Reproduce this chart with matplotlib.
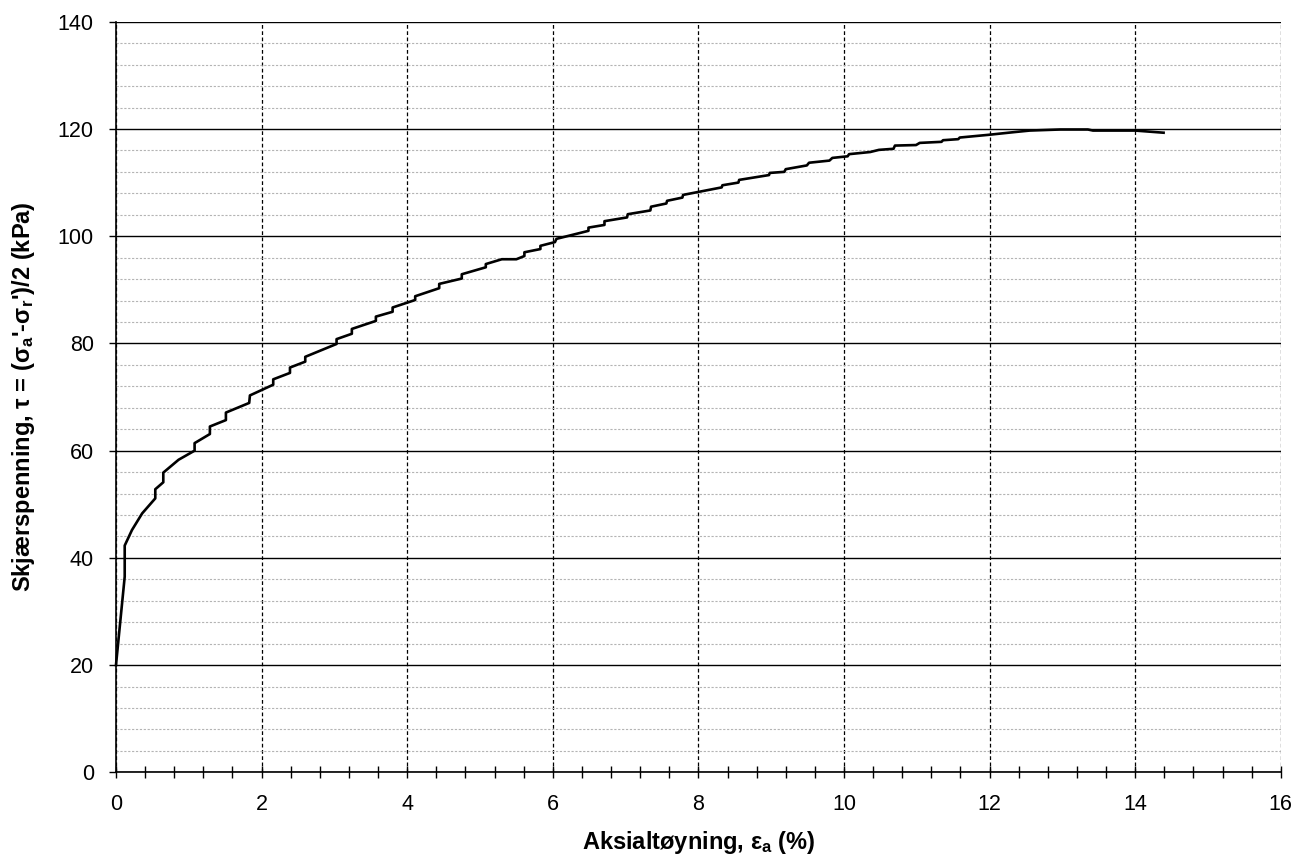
import matplotlib.pyplot as plt
from matplotlib.ticker import MultipleLocator

# Triaksialforsøk: skjærspenning mot aksialtøyning
strain = [0.00, 0.12, 0.12, 0.22, 0.36, 0.54, 0.54, 0.65, 0.65, 0.86,
          1.08, 1.08, 1.29, 1.29, 1.51, 1.51, 1.83, 1.84, 2.16, 2.16,
          2.39, 2.39, 2.60, 2.60, 3.03, 3.03, 3.24, 3.24, 3.57, 3.57,
          3.80, 3.80, 4.11, 4.11, 4.44, 4.44, 4.75, 4.75, 5.08, 5.08,
          5.30, 5.50, 5.61, 5.61, 5.83, 5.83, 6.03, 6.05, 6.49, 6.49,
          6.71, 6.71, 7.02, 7.03, 7.34, 7.35, 7.56, 7.57, 7.78, 7.79,
          8.32, 8.33, 8.55, 8.56, 8.97, 8.98, 9.18, 9.20, 9.49, 9.52,
          9.80, 9.84, 10.05, 10.07, 10.36, 10.48, 10.68, 10.70, 10.99, 11.04,
          11.34, 11.36, 11.57, 11.59, 11.98, 12.33, 12.55, 12.97, 13.35, 13.42,
          13.74, 14.00, 14.39]
shear = [20.0, 36.5, 42.3, 45.2, 48.3, 51.1, 52.8, 54.1, 55.9, 58.3,
         60.0, 61.4, 63.1, 64.5, 65.7, 67.1, 68.9, 70.3, 72.3, 73.3,
         74.5, 75.5, 76.6, 77.5, 79.9, 80.8, 81.8, 82.7, 84.2, 85.0,
         85.9, 86.7, 88.1, 88.8, 90.3, 91.1, 92.1, 92.9, 94.2, 94.8,
         95.7, 95.7, 96.3, 97.0, 97.6, 98.2, 98.9, 99.5, 101.0, 101.6,
         102.1, 102.8, 103.5, 104.1, 104.8, 105.5, 106.1, 106.6, 107.2, 107.7,
         109.1, 109.5, 110.0, 110.5, 111.4, 111.8, 112.0, 112.5, 113.2, 113.7,
         114.1, 114.6, 114.9, 115.3, 115.7, 116.1, 116.3, 116.9, 117.0, 117.4,
         117.6, 117.9, 118.1, 118.4, 118.9, 119.4, 119.7, 119.9, 119.9, 119.7,
         119.7, 119.7, 119.3]

plt.rcParams['font.family'] = ['Liberation Sans', 'DejaVu Sans']
plt.rcParams['mathtext.fontset'] = 'custom'
plt.rcParams['mathtext.rm'] = 'Liberation Sans:bold'
plt.rcParams['mathtext.it'] = 'Liberation Sans:bold'
plt.rcParams['mathtext.bf'] = 'Liberation Sans:bold'

fig, ax = plt.subplots(figsize=(13.06, 8.59), dpi=100)
fig.subplots_adjust(left=0.0888, right=0.9807, top=0.9747, bottom=0.1009)

ax.plot(strain, shear, color='black', lw=1.9, zorder=5, clip_on=False)

ax.set_xlim(0, 16)
ax.set_ylim(0, 140)
ax.xaxis.set_major_locator(MultipleLocator(2))
ax.xaxis.set_minor_locator(MultipleLocator(0.4))
ax.yaxis.set_major_locator(MultipleLocator(20))
ax.yaxis.set_minor_locator(MultipleLocator(4))

# rutenett
ax.grid(which='minor', axis='y', color='#b4b4b4', lw=0.8, ls=(0, (2, 1.5)))
ax.grid(which='major', axis='y', color='black', lw=1.0, ls='-')
ax.grid(which='major', axis='x', color='black', lw=0.9, ls=(0, (3, 2)))
ax.set_axisbelow(True)

for side in ['top', 'right']:
    ax.spines[side].set_visible(False)
ax.spines['left'].set_linewidth(1.2)
ax.spines['bottom'].set_linewidth(1.2)

ax.tick_params(axis='x', which='both', direction='inout', length=9, width=1.0, labelsize=15.5, pad=11)
ax.tick_params(axis='y', which='major', direction='out', length=5, width=1.0, labelsize=15.5, pad=11)
ax.tick_params(axis='y', which='minor', length=0)

ax.set_xlabel(r'Aksialtøyning, ε$_{\mathbf{a}}$ (%)', fontsize=17, fontweight='bold', labelpad=10)
ax.set_ylabel(r"Skjærspenning, τ = (σ$_{\mathbf{a}}$'-σ$_{\mathbf{r}}$')/2 (kPa)", fontsize=17,
              fontweight='bold', labelpad=15)

plt.savefig('out.png', dpi=100)
plt.close()
